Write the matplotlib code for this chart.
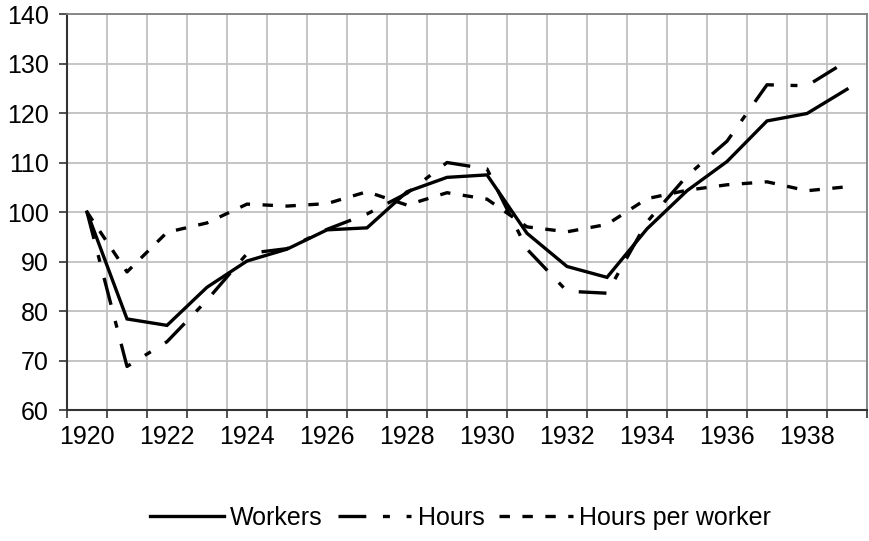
import numpy as np
import matplotlib
matplotlib.use("Agg")
from matplotlib import pyplot as plt
from matplotlib.ticker import MultipleLocator, FixedLocator

plt.rcParams['font.family'] = ['Liberation Sans', 'DejaVu Sans']
plt.rcParams['lines.scale_dashes'] = False

# index values (1920 = 100)
years = list(range(1920, 1940))
workers = [100, 78.4, 77.1, 84.8, 90.1, 92.5, 96.4, 96.8, 104.1, 107.0,
           107.5, 95.7, 89.0, 86.8, 96.6, 104.3, 110.2, 118.4, 119.9, 124.8]
hours = [100, 68.8, 73.8, 82.2, 91.6, 92.6, 96.5, 99.6, 103.8, 110.0,
         108.7, 92.5, 84.0, 83.6, 98.0, 107.3, 114.3, 125.7, 125.5, 130.5]
hours_per_worker = [100, 87.9, 95.9, 97.8, 101.6, 101.2, 101.7, 104.1, 101.4, 103.9,
                    102.6, 97.0, 96.0, 97.5, 102.7, 104.4, 105.5, 106.1, 104.3, 105.1]
series_labels = ["Workers", "Hours", "Hours per worker"]

fig = plt.figure(figsize=(8.69, 5.41), dpi=100)
ax = fig.add_axes([0.0771, 0.2421, 0.9206, 0.732])

lw = 2.4
ax.plot(years, workers, color="black", lw=lw, label=series_labels[0],
        solid_joinstyle="miter")
ax.plot(years, hours, color="black", lw=lw, label=series_labels[1],
        linestyle=(0, (20, 12, 5, 12)), dash_capstyle="butt")
ax.plot(years, hours_per_worker, color="black", lw=lw, label=series_labels[2],
        linestyle=(0, (7.5, 9)), dash_capstyle="butt")

# category axis: labels every other year, ticks/grid between categories
ax.set_xlim(years[0] - 0.5, years[-1] + 0.5)
ax.xaxis.set_major_locator(FixedLocator(years[::2]))
ax.xaxis.set_minor_locator(FixedLocator(np.arange(years[0] - 0.5, years[-1] + 0.6, 1)))
ax.tick_params(axis="x", which="major", length=0, pad=11, labelsize=18)
ax.tick_params(axis="x", which="minor", length=6, width=1.2, color="#333333", direction="out")
ax.grid(True, which="minor", axis="x", color="#c0c0c0", lw=1.3)

ax.set_ylim(60, 140)
ax.yaxis.set_major_locator(MultipleLocator(10))
ax.tick_params(axis="y", length=6, width=1.2, color="#333333", pad=7, labelsize=18)
ax.grid(True, which="major", axis="y", color="#c0c0c0", lw=1.3)
ax.set_axisbelow(True)

for side in ["top", "right"]:
    ax.spines[side].set_color("#808080")
    ax.spines[side].set_linewidth(1.3)
for side in ["left", "bottom"]:
    ax.spines[side].set_color("#333333")
    ax.spines[side].set_linewidth(1.5)

fig.legend(loc="center", bbox_to_anchor=(0.530, 0.0425), ncol=3, frameon=False,
           fontsize=18, handlelength=2.95, handletextpad=0.25, columnspacing=0.6,
           borderpad=0)

fig.savefig("out.png", dpi=100)
